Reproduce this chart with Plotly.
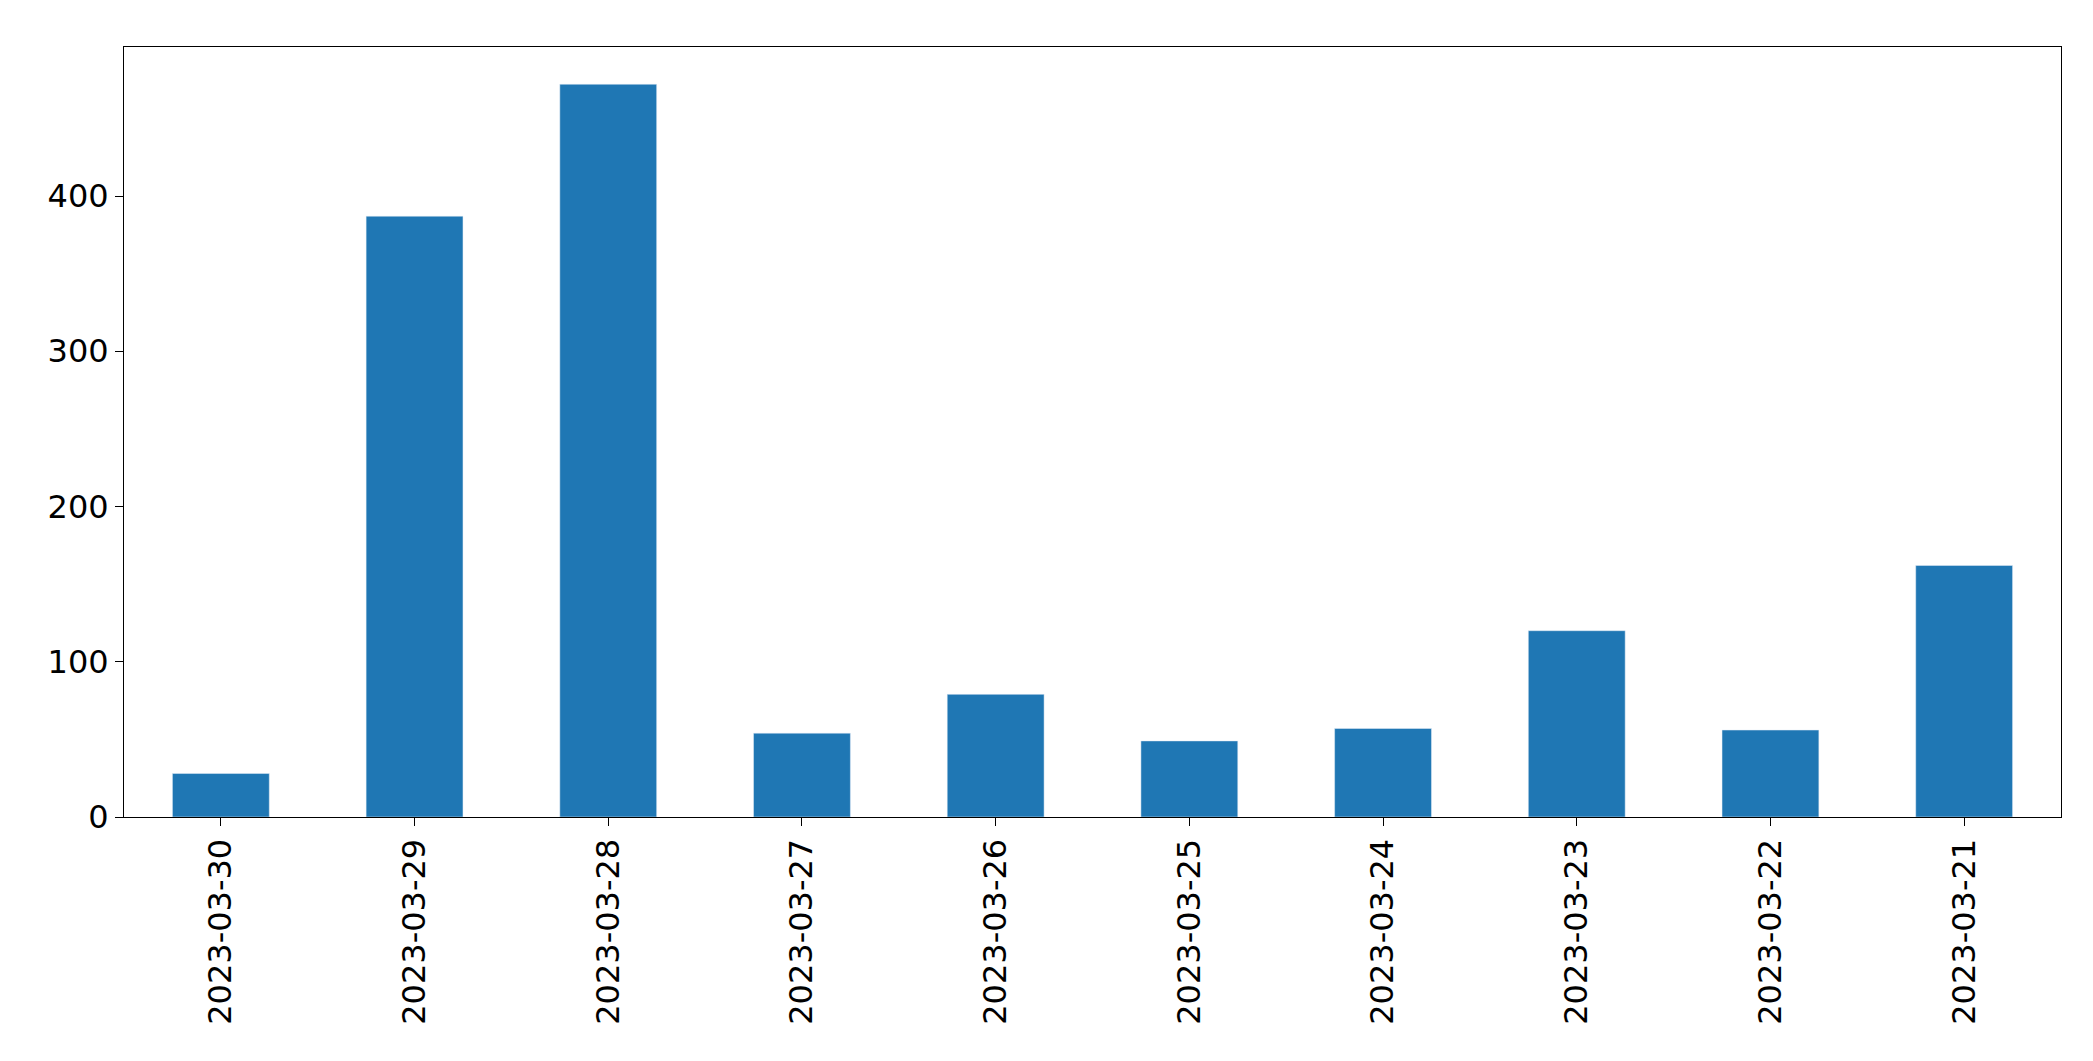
import plotly.graph_objects as go

dates = ["2023-03-30","2023-03-29","2023-03-28","2023-03-27","2023-03-26",
         "2023-03-25","2023-03-24","2023-03-23","2023-03-22","2023-03-21"]
counts = [28, 387, 472, 54, 79, 49, 57, 120, 56, 162]

fig = go.Figure(go.Bar(x=dates, y=counts, marker_color="#1f77b4", width=0.5))
fig.update_layout(
    width=2093, height=1061, plot_bgcolor="white", paper_bgcolor="white",
    margin=dict(l=116, r=40, t=39, b=252), showlegend=False,
    font=dict(family="DejaVu Sans", size=32, color="black"),
)
fig.update_xaxes(type="category", tickangle=-90, showline=True, linecolor="black",
                 mirror=True, ticks="outside", ticklen=8, tickcolor="black", showgrid=False)
fig.update_yaxes(range=[0, 496], tickvals=[0,100,200,300,400], showline=True,
                 linecolor="black", mirror=True, ticks="outside", ticklen=8,
                 tickcolor="black", showgrid=False, zeroline=False)
fig.write_html("out.html")
